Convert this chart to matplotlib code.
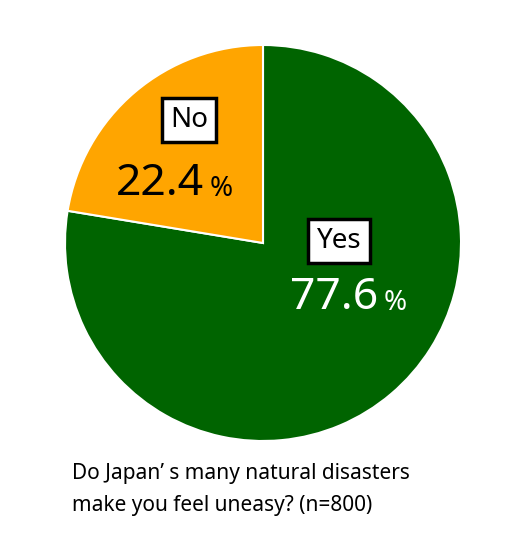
import matplotlib
matplotlib.use("Agg")
import matplotlib.pyplot as plt

labels = ["Yes", "No"]
values = [77.6, 22.4]
colors = ["#006400", "#FFA500"]
pct_text = ["77.6", "22.4"]

fig = plt.figure(figsize=(5.16, 5.58), dpi=100)
pax = fig.add_axes([(263-198)/516, 1-(243+198)/558, 396/516, 396/558])
pax.pie(values, colors=colors, startangle=90, counterclock=False,
        wedgeprops=dict(edgecolor="white", linewidth=1.5))
pax.set_xlim(-1, 1)
pax.set_ylim(-1, 1)
pax.set_aspect("equal")

ax = fig.add_axes([0.0, 0.0, 1.0, 1.0])
ax.set_xlim(0, 516)
ax.set_ylim(558, 0)
ax.axis("off")
ax.patch.set_alpha(0)

ff = ["Noto Sans", "DejaVu Sans"]
ax.text(339, 241, labels[0], ha="center", va="center", fontsize=20, fontweight="bold", family=ff,
        bbox=dict(boxstyle="square,pad=0.3", fc="white", ec="black", lw=2.5))
ax.text(290, 298, pct_text[0], ha="left", va="center", fontsize=32, fontweight="bold", color="white", family=ff)
ax.text(384, 303, "%", ha="left", va="center", fontsize=20, fontweight="bold", color="white", family=ff)
ax.text(189, 120, labels[1], ha="center", va="center", fontsize=20, fontweight="bold", family=ff,
        bbox=dict(boxstyle="square,pad=0.3", fc="white", ec="black", lw=2.5))
ax.text(116, 184, pct_text[1], ha="left", va="center", fontsize=32, fontweight="bold", color="black", family=ff)
ax.text(210, 189, "%", ha="left", va="center", fontsize=20, fontweight="bold", color="black", family=ff)

ax.text(72, 473, "Do Japan’ s many natural disasters", ha="left", va="center", fontsize=15, family=ff)
ax.text(72, 505, "make you feel uneasy? (n=800)", ha="left", va="center", fontsize=15, family=ff)

fig.savefig("out.png", dpi=100)
